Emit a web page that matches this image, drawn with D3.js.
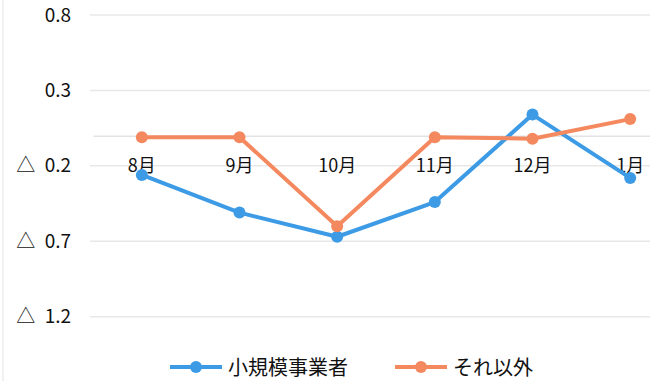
<!DOCTYPE html>
<html>
<head>
<meta charset="utf-8">
<script src="https://cdn.jsdelivr.net/npm/d3@7"></script>
<style>
  html, body { margin: 0; padding: 0; background: #fff; }
  svg { display: block; font-family: "Noto Sans CJK JP", "Noto Sans", sans-serif; }
</style>
</head>
<body>
<svg id="chart" width="650" height="381"></svg>
<script>
// Monthly change, small businesses vs. others
const months = ["8月", "9月", "10月", "11月", "12月", "1月"];
const smallBiz = [-0.26, -0.51, -0.67, -0.44, 0.14, -0.28];
const others = [-0.01, -0.01, -0.60, -0.01, -0.02, 0.11];
const yTicks = [0.8, 0.3, -0.2, -0.7, -1.2];
const yTickLabels = ["0.8", "0.3", "△\u20020.2", "△\u20020.7", "△\u20021.2"];
const seriesNames = ["小規模事業者", "それ以外"];
const seriesColors = ["#3d9be6", "#f4895f"];

const svg = d3.select("#chart");

const x = d3.scaleBand().domain(months).range([93, 679]);
const y = d3.scaleLinear().domain([-1.2, 0.8]).range([316.7, 15]);

// chart frame edge
svg.append("line")
  .attr("x1", 3).attr("x2", 3).attr("y1", 0).attr("y2", 381)
  .attr("stroke", "#ececec").attr("stroke-width", 1.5);

// gridlines
svg.append("g").selectAll("line").data(yTicks).join("line")
  .attr("x1", 90).attr("x2", 650)
  .attr("y1", d => y(d)).attr("y2", d => y(d))
  .attr("stroke", "#e8e8e8").attr("stroke-width", 1.5);

// category axis at zero
const xAxis = svg.append("g")
  .attr("transform", `translate(0,${y(0)})`)
  .call(d3.axisBottom(x).tickSize(0).tickPadding(24));
xAxis.select(".domain").attr("stroke", "#e3e3e3").attr("stroke-width", 1.5);
xAxis.selectAll("text")
  .attr("font-size", 18).attr("fill", "#111")
  .attr("font-family", "\"Noto Sans CJK JP\", sans-serif");

// value axis labels
const yAxis = svg.append("g")
  .attr("transform", "translate(71,0)")
  .call(d3.axisLeft(y).tickValues(yTicks).tickSize(0).tickPadding(0)
    .tickFormat((d, i) => yTickLabels[i]));
yAxis.select(".domain").remove();
yAxis.selectAll("text")
  .attr("font-size", 19).attr("fill", "#111")
  .attr("font-family", "\"Noto Sans CJK JP\", sans-serif");

// series
const line = d3.line()
  .x((d, i) => x(months[i]) + x.bandwidth() / 2)
  .y(d => y(d));

[smallBiz, others].forEach((vals, k) => {
  const g = svg.append("g");
  g.append("path").datum(vals)
    .attr("d", line)
    .attr("fill", "none")
    .attr("stroke", seriesColors[k])
    .attr("stroke-width", 4)
    .attr("stroke-linejoin", "round");
  g.selectAll("circle").data(vals).join("circle")
    .attr("cx", (d, i) => x(months[i]) + x.bandwidth() / 2)
    .attr("cy", d => y(d))
    .attr("r", 6)
    .attr("fill", seriesColors[k]);
});

// legend
const legendItems = [
  { x: 170, w: 52 },
  { x: 395, w: 52 }
];
legendItems.forEach((it, k) => {
  const g = svg.append("g");
  g.append("line")
    .attr("x1", it.x).attr("x2", it.x + it.w)
    .attr("y1", 367).attr("y2", 367)
    .attr("stroke", seriesColors[k]).attr("stroke-width", 4);
  g.append("circle")
    .attr("cx", it.x + it.w / 2).attr("cy", 367).attr("r", 6)
    .attr("fill", seriesColors[k]);
  g.append("text")
    .attr("x", it.x + it.w + 6).attr("y", 375)
    .attr("font-size", 20).attr("fill", "#111")
    .text(seriesNames[k]);
});
</script>
</body>
</html>
